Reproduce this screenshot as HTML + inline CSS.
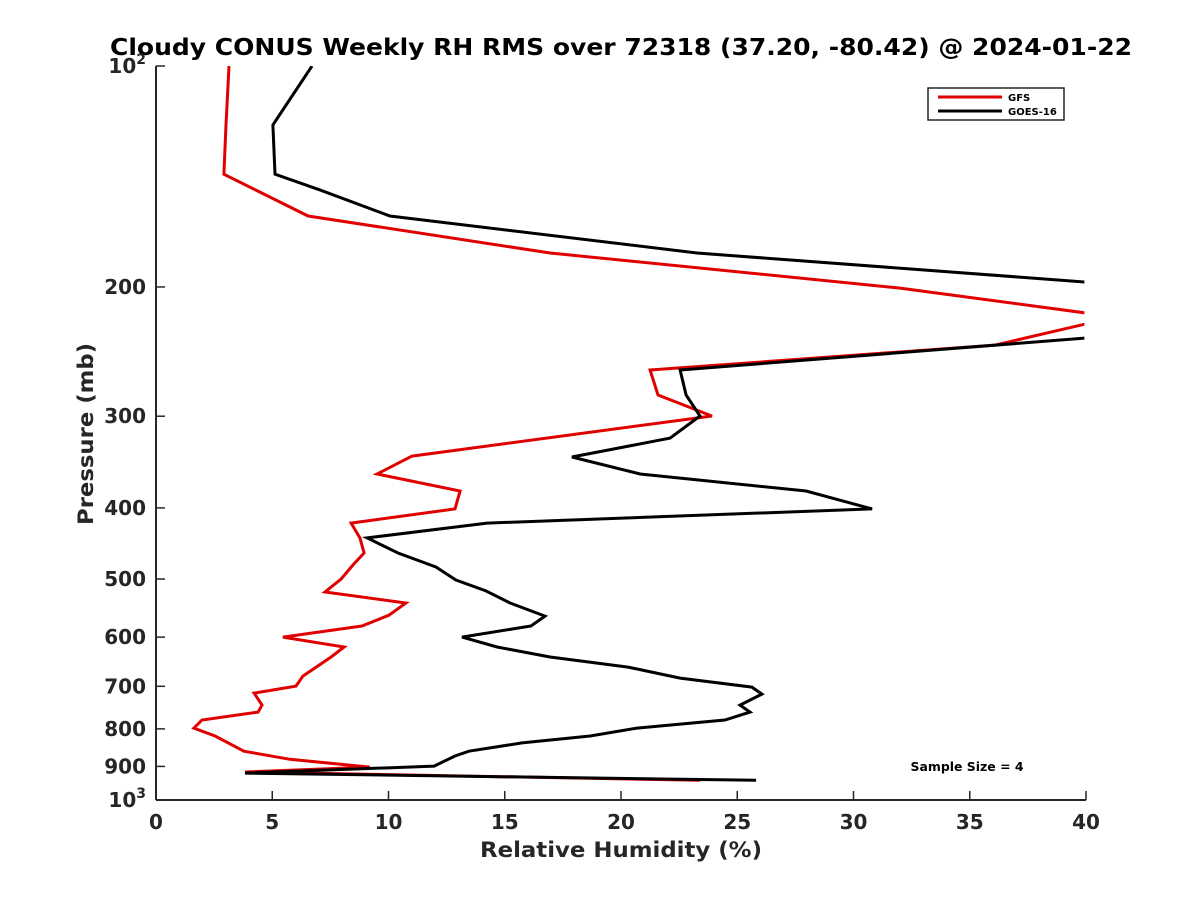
<!DOCTYPE html>
<html><head><meta charset="utf-8"><style>
body{margin:0;background:#fff;}
svg text{font-family:"DejaVu Sans","Liberation Sans",sans-serif;font-weight:bold;fill:#262626;}
</style></head><body>
<svg id="chart" width="1200" height="900" viewBox="0 0 1200 900">
<defs><clipPath id="plotclip"><rect x="156" y="66" width="928.4" height="734"/></clipPath></defs>
<rect width="1200" height="900" fill="#fff"/>
<text x="621" y="55" text-anchor="middle" font-size="23" textLength="1022" lengthAdjust="spacingAndGlyphs" style="fill:#000">Cloudy CONUS Weekly RH RMS over 72318 (37.20, -80.42) @ 2024-01-22</text>
<g id="axes"></g>
<g id="series" clip-path="url(#plotclip)"></g>
<text x="621" y="857" text-anchor="middle" font-size="21" textLength="282" lengthAdjust="spacingAndGlyphs">Relative Humidity (%)</text>
<text transform="translate(93,434) rotate(-90)" text-anchor="middle" font-size="21" textLength="182" lengthAdjust="spacingAndGlyphs">Pressure (mb)</text>
<g>
<rect x="928" y="88" width="136" height="32" fill="#fff" stroke="#262626" stroke-width="1.5"/>
<line x1="938" y1="97" x2="1002" y2="97" stroke="#e00000" stroke-width="3"/>
<text x="1008" y="101" font-size="10" style="fill:#000">GFS</text>
<line x1="938" y1="111" x2="1002" y2="111" stroke="#000" stroke-width="3"/>
<text x="1008" y="115" font-size="10" style="fill:#000">GOES-16</text>
</g>
<text x="967" y="771" text-anchor="middle" font-size="12" textLength="113" lengthAdjust="spacingAndGlyphs" style="fill:#000">Sample Size = 4</text>
</svg>
<script>
const xTicks=[0,5,10,15,20,25,30,35,40];
const yTicks=[200,300,400,500,600,700,800,900];
const gfsRH=[3.14,3.01,2.92,6.54,16.95,32.0,40,40,36.09,21.25,21.59,23.91,11.01,9.51,13.08,12.86,8.39,8.77,8.95,8.47,7.96,7.27,10.75,10.02,8.86,5.46,8.09,7.53,6.32,6.02,4.22,4.56,4.39,1.98,1.63,2.54,3.78,5.76,9.2,3.83,23.4];
const gfsP=[100,120.3,140.4,160.1,179.8,200.7,217,224.6,240,259.5,280.7,299.8,340,359.6,379.3,401.3,419.5,439.5,460.8,478.4,500,520.7,539,560,579.4,599.8,618.9,638.6,678,699.6,715,742.5,759,778,798,818,858,880,902,916,940];
const goesRH=[6.71,5.03,5.12,7.05,10.06,23.27,40,40,22.54,22.8,23.4,22.11,17.89,20.82,27.96,30.8,14.24,9.08,10.41,12.04,12.9,14.19,15.23,16.73,16.13,13.16,14.67,16.95,20.3,22.54,25.63,26.06,25.12,25.55,24.47,20.69,18.67,15.74,13.46,12.86,11.96,3.83,25.81];
const goesP=[100,120.3,140.4,147.5,160.1,179.8,197,234.7,259.5,280.7,299.8,321.3,341,359.6,379.3,401.3,419.5,439.5,460.8,481.5,501.5,519,539,561.7,579.4,599.8,618.9,638.6,659,682.3,701.8,717.4,742.5,759,778,798,818,836,858,871,899.2,919,940];
const X0=156,X1=1086,Y0=66,Y1=800;
function xs(v){return X0+(v-0)/40*(X1-X0);}
function ys(p){return Y0+(Math.log10(p)-2)*(Y1-Y0);}
const NS='http://www.w3.org/2000/svg';
const axes=document.getElementById('axes');
function mk(tag,attrs,parent){const e=document.createElementNS(NS,tag);for(const k in attrs)e.setAttribute(k,attrs[k]);parent.appendChild(e);return e;}
let l=mk('line',{x1:X0,y1:Y0,x2:X0,y2:Y1,stroke:'#262626','stroke-width':2},axes);


l=mk('line',{x1:X0,y1:Y1,x2:X1,y2:Y1,stroke:'#262626','stroke-width':2},axes);


xTicks.forEach(v=>{
 const x=xs(v);
 const t=mk('line',{x1:x,y1:Y1,x2:x,y2:Y1-9,stroke:'#262626','stroke-width':1.5},axes);
 
 
 const tx=mk('text',{x:x,y:Y1+29,'text-anchor':'middle','font-size':20},axes);
 tx.textContent=v;
 
 
});
[100].concat(yTicks,[1000]).forEach(p=>{
 const y=ys(p);
 const t=mk('line',{x1:X0,y1:y,x2:X0+9,y2:y,stroke:'#262626','stroke-width':1.5},axes);
 
 
 const tx=mk('text',{x:X0-10,y:y+7,'text-anchor':'end','font-size':20},axes);
 if(p===100||p===1000){tx.textContent='10';const s=mk('tspan',{dy:-9,'font-size':14},tx);s.textContent=p===100?'2':'3';}
 else tx.textContent=p;
 
 
});
const ser=document.getElementById('series');
function line(vals,ps,color,name){
 const pts=vals.map((v,i)=>xs(v).toFixed(1)+','+ys(ps[i]).toFixed(1)).join(' ');
 const pl=mk('polyline',{points:pts,fill:'none',stroke:color,'stroke-width':3,'stroke-linejoin':'miter'},ser);
 
 
}
line(gfsRH,gfsP,'#e00000','gfs-line');
line(goesRH,goesP,'#000000','goes16-line');
</script>
</body></html>
